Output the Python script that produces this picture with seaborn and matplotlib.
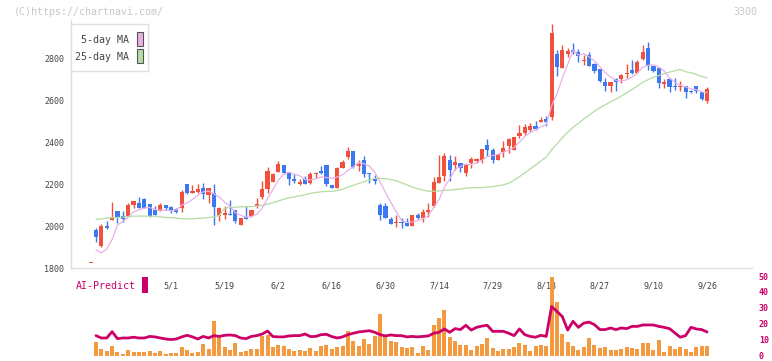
import numpy as np
import pandas as pd
import matplotlib
matplotlib.use("Agg")
import matplotlib.pyplot as plt
import seaborn as sns
from matplotlib.patches import Rectangle

# ---------------- data ----------------
opens = [1981, 1905, 2000, 2029, 2071, 2048, 2048, 2100, 2111, 2129,
         2103, 2075, 2071, 2100, 2092, 2081, 2087, 2200, 2159, 2164,
         2181, 2148, 2157, 2048, 2054, 2057, 2076, 2005, 2043, 2049,
         2097, 2137, 2175, 2211, 2259, 2290, 2254, 2222, 2202, 2222,
         2206, 2248, 2262, 2290, 2195, 2183, 2275, 2330, 2357, 2288,
         2314, 2251, 2222, 2100, 2095, 2033, 2016, 2017, 2013, 2000,
         2052, 2040, 2068, 2095, 2206, 2238, 2314, 2291, 2302, 2254,
         2298, 2310, 2315, 2386, 2362, 2315, 2354, 2381, 2362, 2429,
         2445, 2457, 2476, 2497, 2510, 2521, 2819, 2754, 2818, 2838,
         2827, 2786, 2814, 2770, 2748, 2684, 2668, 2698, 2702, 2723,
         2743, 2730, 2795, 2846, 2763, 2754, 2676, 2698, 2663, 2662,
         2668, 2641, 2668, 2640, 2595]
highs = [1992, 2010, 2024, 2114, 2071, 2071, 2108, 2119, 2138, 2135,
         2103, 2095, 2111, 2100, 2095, 2084, 2171, 2200, 2195, 2200,
         2203, 2181, 2200, 2092, 2095, 2124, 2076, 2037, 2095, 2076,
         2132, 2214, 2283, 2254, 2309, 2290, 2254, 2246, 2222, 2238,
         2259, 2259, 2286, 2290, 2195, 2283, 2314, 2378, 2357, 2314,
         2333, 2251, 2243, 2111, 2108, 2044, 2052, 2037, 2037, 2052,
         2064, 2079, 2108, 2235, 2338, 2346, 2338, 2333, 2302, 2290,
         2330, 2322, 2365, 2414, 2370, 2343, 2405, 2421, 2426, 2481,
         2486, 2489, 2500, 2518, 2524, 2962, 2838, 2862, 2846, 2870,
         2841, 2814, 2827, 2775, 2748, 2706, 2684, 2706, 2722, 2770,
         2790, 2790, 2862, 2878, 2763, 2754, 2700, 2703, 2703, 2690,
         2668, 2648, 2668, 2640, 2660]
lows = [1926, 1898, 1986, 2029, 2013, 2021, 2048, 2087, 2087, 2087,
        2044, 2052, 2071, 2076, 2060, 2060, 2068, 2151, 2156, 2156,
        2127, 2108, 2005, 2024, 2032, 2052, 2016, 2005, 2032, 2044,
        2084, 2127, 2156, 2211, 2259, 2246, 2195, 2206, 2195, 2202,
        2198, 2230, 2246, 2190, 2179, 2183, 2275, 2317, 2275, 2264,
        2235, 2206, 2200, 2030, 2038, 2011, 1994, 1989, 2002, 2000,
        2032, 2021, 2044, 2089, 2206, 2214, 2214, 2267, 2259, 2238,
        2275, 2300, 2302, 2333, 2302, 2314, 2330, 2346, 2362, 2418,
        2433, 2449, 2457, 2497, 2476, 2505, 2714, 2751, 2806, 2818,
        2783, 2767, 2762, 2727, 2684, 2643, 2637, 2643, 2679, 2703,
        2722, 2730, 2790, 2743, 2735, 2656, 2659, 2637, 2648, 2643,
        2611, 2632, 2632, 2600, 2587]
closes = [1949, 2000, 1991, 2041, 2044, 2033, 2100, 2119, 2087, 2087,
          2049, 2052, 2100, 2087, 2076, 2068, 2164, 2156, 2167, 2176,
          2151, 2181, 2092, 2084, 2060, 2052, 2025, 2037, 2035, 2076,
          2105, 2175, 2262, 2249, 2295, 2254, 2222, 2214, 2211, 2202,
          2249, 2251, 2254, 2198, 2183, 2278, 2306, 2357, 2283, 2291,
          2246, 2246, 2216, 2052, 2040, 2011, 2019, 2013, 2002, 2052,
          2040, 2068, 2076, 2210, 2235, 2333, 2267, 2306, 2275, 2290,
          2318, 2318, 2365, 2362, 2315, 2343, 2372, 2413, 2426, 2445,
          2473, 2476, 2464, 2505, 2497, 2921, 2759, 2838, 2833, 2830,
          2811, 2790, 2762, 2740, 2692, 2668, 2684, 2684, 2719, 2727,
          2730, 2779, 2827, 2763, 2738, 2679, 2684, 2660, 2660, 2667,
          2640, 2638, 2643, 2603, 2652]
volume = [8.5, 3.8, 2.9, 6.0, 2.3, 1.0, 3.5, 2.3, 2.3, 2.3,
          2.9, 1.7, 2.9, 1.0, 1.7, 1.7, 5.4, 3.5, 1.7, 2.3,
          7.3, 4.2, 21.7, 11.7, 5.4, 3.5, 7.9, 2.3, 2.9, 4.2,
          4.2, 12.3, 12.9, 5.4, 6.7, 6.0, 4.2, 2.9, 3.5, 2.9,
          4.8, 2.9, 6.0, 6.7, 4.2, 5.4, 6.0, 15.4, 9.2, 6.0,
          10.4, 7.3, 12.3, 26.0, 11.7, 9.2, 8.5, 5.4, 4.8, 5.4,
          1.7, 6.0, 3.5, 19.2, 23.5, 28.5, 11.7, 9.2, 6.7, 6.7,
          3.5, 6.0, 7.3, 11.0, 4.8, 2.9, 4.2, 4.2, 5.4, 7.9,
          6.7, 2.9, 6.0, 6.7, 6.0, 49.5, 33.5, 13.5, 8.5, 6.0,
          3.5, 5.4, 11.0, 6.7, 4.8, 5.4, 3.5, 3.5, 4.2, 5.4,
          4.8, 4.2, 7.9, 7.9, 3.5, 9.8, 2.3, 6.0, 4.2, 5.4,
          4.2, 2.3, 5.4, 6.0, 6.0]
ai_predict = [12.5, 11.0, 11.0, 15.0, 10.6, 11.0, 11.0, 11.5, 11.0, 11.0,
              12.0, 11.7, 11.0, 10.4, 10.0, 10.4, 11.7, 12.7, 11.7, 10.4,
              12.0, 11.0, 12.5, 12.0, 12.7, 12.9, 12.5, 11.0, 10.6, 12.0,
              12.5, 13.5, 15.4, 11.9, 11.7, 11.7, 12.3, 12.5, 12.5, 13.5,
              11.9, 12.0, 13.1, 13.3, 11.9, 11.0, 11.7, 13.1, 14.0, 14.8,
              15.2, 15.6, 14.6, 13.1, 12.3, 12.9, 12.5, 12.5, 11.7, 12.0,
              11.7, 12.0, 12.3, 14.0, 14.6, 16.7, 14.6, 16.9, 16.3, 19.0,
              16.0, 17.7, 18.5, 19.0, 15.2, 15.2, 15.2, 14.0, 12.5, 16.7,
              13.1, 12.0, 11.5, 12.7, 12.0, 30.8, 27.7, 24.5, 16.0, 21.5,
              17.7, 20.4, 21.0, 19.4, 16.3, 16.3, 17.3, 16.3, 17.3, 16.9,
              18.3, 18.3, 19.2, 19.2, 19.2, 18.3, 17.7, 16.9, 14.2, 11.5,
              12.5, 17.7, 16.7, 16.3, 14.8]
ma5_head = [1886, 1872, 1890, 1935]
ma25_head = [2032, 2033, 2038, 2040, 2040, 2042, 2045, 2047, 2047, 2047,
             2047, 2046, 2043, 2041, 2040, 2037, 2035, 2034, 2034, 2036,
             2038, 2040, 2044, 2050]
pre_mark = 1827
date_labels = ["5/1", "5/19", "6/2", "6/16", "6/30", "7/14", "7/29",
               "8/13", "8/27", "9/10", "9/26"]
date_label_idx = [14, 24, 34, 44, 54, 64, 74, 84, 94, 104, 114]
price_ticks = [1800, 2000, 2200, 2400, 2600, 2800]
sub_ticks = [0, 10, 20, 30, 40, 50]

# ---------------- styling ----------------
W, H = 772, 361
RED = "#f0503c"
BLUE = "#3c78f0"
ORANGE = "#f39a40"
MAGENTA = "#cc0066"
PINK = "#e8b0e8"
GREEN = "#b4dca4"
AXGRAY = "#dddddd"
TXT = "#444444"
MONO = ["DejaVu Sans Mono"]

sns.set_style("white")
plt.rcParams["font.family"] = MONO

df = pd.DataFrame({"o": opens, "h": highs, "l": lows, "c": closes,
                   "vol": volume, "ai": ai_predict})
df["i"] = np.arange(len(df))
ma5 = df["c"].rolling(5).mean().to_numpy()
ma5[:len(ma5_head)] = ma5_head
ma25 = df["c"].rolling(25).mean().to_numpy()
ma25[:len(ma25_head)] = ma25_head
df["ma5"] = ma5
df["ma25"] = ma25

fig = plt.figure(figsize=(W / 100, H / 100), dpi=100)

def fx(px):
    return px / W

def fy(py):
    return 1 - py / H

left_px, right_px = 71, 752
top_px, bot_px = 20, 268
ax = fig.add_axes([fx(left_px), fy(bot_px), fx(right_px - left_px),
                   (bot_px - top_px) / H])
sub_top, sub_bot = 276, 355.5
ax2 = fig.add_axes([fx(left_px), fy(sub_bot), fx(right_px - left_px),
                    (sub_bot - sub_top) / H], sharex=ax)

step = 5.36
x0 = (left_px - 96) / step
x1 = (right_px - 96) / step
ax.set_xlim(x0, x1)
ax.set_ylim(1800, 1800 + (bot_px - top_px) * 200 / 42)

# candles
up = df["c"] >= df["o"]
cols = np.where(up, RED, BLUE)
ax.vlines(df["i"], df["l"], df["h"], colors=cols, linewidth=1.0, zorder=3)
body_lo = np.minimum(df["o"], df["c"])
body_h = np.maximum(np.abs(df["c"] - df["o"]), 5)
ax.bar(df["i"], body_h, bottom=body_lo, width=0.78, color=cols,
       linewidth=0, zorder=4)
ax.bar([-1], [5], bottom=[pre_mark - 2.5], width=0.78, color=RED,
       linewidth=0, zorder=4)

# moving averages
sns.lineplot(data=df, x="i", y="ma25", ax=ax, color=GREEN, linewidth=0.9,
             zorder=5, legend=False)
sns.lineplot(data=df, x="i", y="ma5", ax=ax, color=PINK, linewidth=0.9,
             zorder=5, legend=False)

ax.set_xlabel("")
ax.set_ylabel("")
for s in ["top", "right"]:
    ax.spines[s].set_visible(False)
for s in ["left", "bottom"]:
    ax.spines[s].set_color(AXGRAY)
    ax.spines[s].set_linewidth(1.0)
ax.set_yticks(price_ticks)
ax.set_yticklabels([str(t) for t in price_ticks])
ax.tick_params(axis="y", direction="inout", length=8, width=1,
               color=AXGRAY, labelsize=6, labelcolor=TXT, pad=1)
ax.set_xticks(np.linspace(x0, x1, 12))
ax.tick_params(axis="x", which="major", direction="inout", length=8,
               width=1, color=AXGRAY, labelbottom=False)
ax.set_xticks(date_label_idx, minor=True)
ax.set_xticklabels(date_labels, minor=True)
ax.tick_params(axis="x", which="minor", length=0, labelsize=6,
               labelcolor=TXT, pad=10)

# lower panel
ax2.bar(df["i"], df["vol"], width=0.75, color=ORANGE, linewidth=0, zorder=2)
sns.lineplot(data=df, x="i", y="ai", ax=ax2, color=MAGENTA, linewidth=2.0,
             zorder=3, legend=False)
ax2.set_ylim(0, 50)
ax2.set_xlabel("")
ax2.set_ylabel("")
for s in ax2.spines.values():
    s.set_visible(False)
ax2.yaxis.tick_right()
ax2.set_yticks(sub_ticks)
ax2.set_yticklabels([str(t) for t in sub_ticks], fontweight="bold")
ax2.tick_params(axis="y", length=0, labelsize=6, labelcolor=MAGENTA, pad=5)
ax2.tick_params(axis="x", which="both", length=0, labelbottom=False)
ax2.patch.set_alpha(0)

# legend box
fig.patches.append(Rectangle((fx(71), fy(71)), fx(148 - 71), (71 - 24) / H,
                             transform=fig.transFigure, facecolor="white",
                             edgecolor="#e0e0e0", linewidth=1, zorder=10))
fig.text(fx(129), fy(40), "5-day MA", ha="right", va="center", fontsize=7.2,
         color=TXT, zorder=11)
fig.text(fx(129), fy(57), "25-day MA", ha="right", va="center", fontsize=7.2,
         color=TXT, zorder=11)
fig.patches.append(Rectangle((fx(137), fy(46)), fx(6), 14 / H,
                             transform=fig.transFigure, facecolor=PINK,
                             edgecolor="#555555", linewidth=0.8, zorder=11))
fig.patches.append(Rectangle((fx(137), fy(63)), fx(6), 14 / H,
                             transform=fig.transFigure, facecolor=GREEN,
                             edgecolor="#555555", linewidth=0.8, zorder=11))

# AI-Predict label
fig.text(fx(76), fy(286), "AI-Predict", ha="left", va="center",
         fontsize=7.2, color=MAGENTA)
fig.patches.append(Rectangle((fx(142), fy(293)), fx(6), 16 / H,
                             transform=fig.transFigure, facecolor=MAGENTA,
                             edgecolor="none", zorder=11))

# watermark & code
fig.text(fx(14), fy(12), "(C)https://chartnavi.com/", ha="left", va="center",
         fontsize=7.2, color="#c8c8c8")
fig.text(fx(757), fy(12), "3300", ha="right", va="center", fontsize=7.2,
         color="#c8c8c8")

fig.savefig("out.png", dpi=100, facecolor="white")
